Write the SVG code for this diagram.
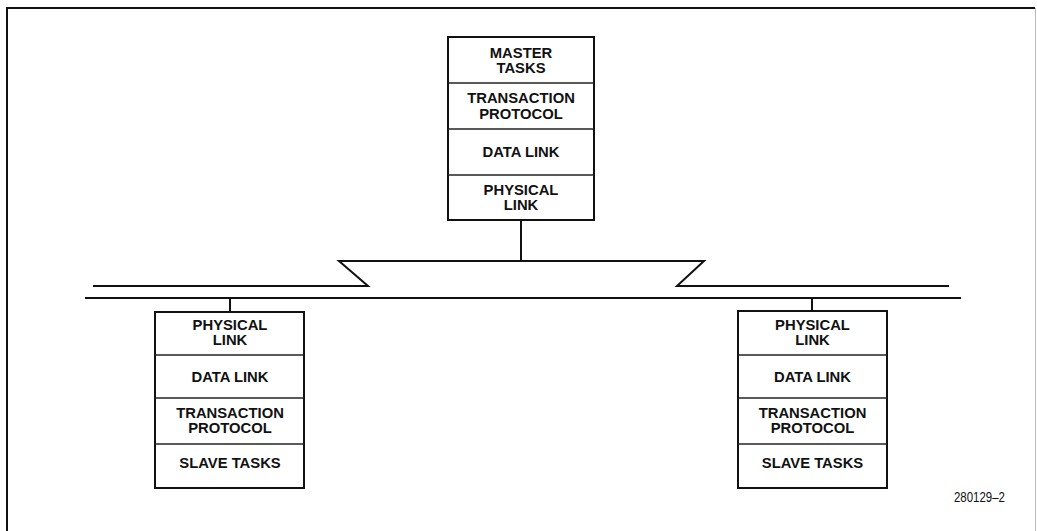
<svg xmlns="http://www.w3.org/2000/svg" width="1037" height="531" viewBox="0 0 1037 531">
<style>
.box{fill:#fff;stroke:#111;stroke-width:2}
.div{stroke:#222;stroke-width:1.5}
.ln{fill:none;stroke:#111;stroke-width:2}
text{font-family:"Liberation Sans",Arial,sans-serif;font-weight:bold;font-size:14.8px;fill:#111;text-anchor:middle}
.id{font-weight:normal;font-size:14px;text-anchor:end}
</style>
<rect width="1037" height="531" fill="#fff"/>
<g id="frame">
<path d="M7 531 V8 H1035" fill="none" stroke="#111" stroke-width="2"/>
<path d="M1035.5 8 V531" fill="none" stroke="#bbb" stroke-width="1"/>
</g>
<g id="connectors">
<path class="ln" d="M521 220 V261"/>
<path class="ln" d="M93 286 H368 L339 261 H704 L677 286 H949"/>
<path class="ln" d="M85 298 H961"/>
<path class="ln" d="M230 298 V312"/>
<path class="ln" d="M812 298 V311"/>
</g>
<g id="master">
<rect class="box" x="448" y="37" width="146" height="183"/>
<line class="div" x1="448" y1="83" x2="594" y2="83"/>
<line class="div" x1="448" y1="129" x2="594" y2="129"/>
<line class="div" x1="448" y1="175" x2="594" y2="175"/>
<text x="521" y="58">MASTER</text>
<text x="521" y="73">TASKS</text>
<text x="521" y="103">TRANSACTION</text>
<text x="521" y="119">PROTOCOL</text>
<text x="521" y="157">DATA LINK</text>
<text x="521" y="195">PHYSICAL</text>
<text x="521" y="210">LINK</text>
</g>
<g id="slave-left">
<rect class="box" x="155" y="312" width="149" height="176"/>
<line class="div" x1="155" y1="355" x2="304" y2="355"/>
<line class="div" x1="155" y1="398" x2="304" y2="398"/>
<line class="div" x1="155" y1="444" x2="304" y2="444"/>
<text x="230" y="330">PHYSICAL</text>
<text x="230" y="345">LINK</text>
<text x="230" y="382">DATA LINK</text>
<text x="230" y="418">TRANSACTION</text>
<text x="230" y="433">PROTOCOL</text>
<text x="230" y="468">SLAVE TASKS</text>
</g>
<g id="slave-right">
<rect class="box" x="738" y="311" width="149" height="177"/>
<line class="div" x1="738" y1="355" x2="887" y2="355"/>
<line class="div" x1="738" y1="398" x2="887" y2="398"/>
<line class="div" x1="738" y1="444" x2="887" y2="444"/>
<text x="812.5" y="330">PHYSICAL</text>
<text x="812.5" y="345">LINK</text>
<text x="812.5" y="382">DATA LINK</text>
<text x="812.5" y="418">TRANSACTION</text>
<text x="812.5" y="433">PROTOCOL</text>
<text x="812.5" y="468">SLAVE TASKS</text>
</g>
<g id="figure-id">
<text class="id" x="1005" y="502" textLength="51" lengthAdjust="spacingAndGlyphs">280129–2</text>
</g>
</svg>
